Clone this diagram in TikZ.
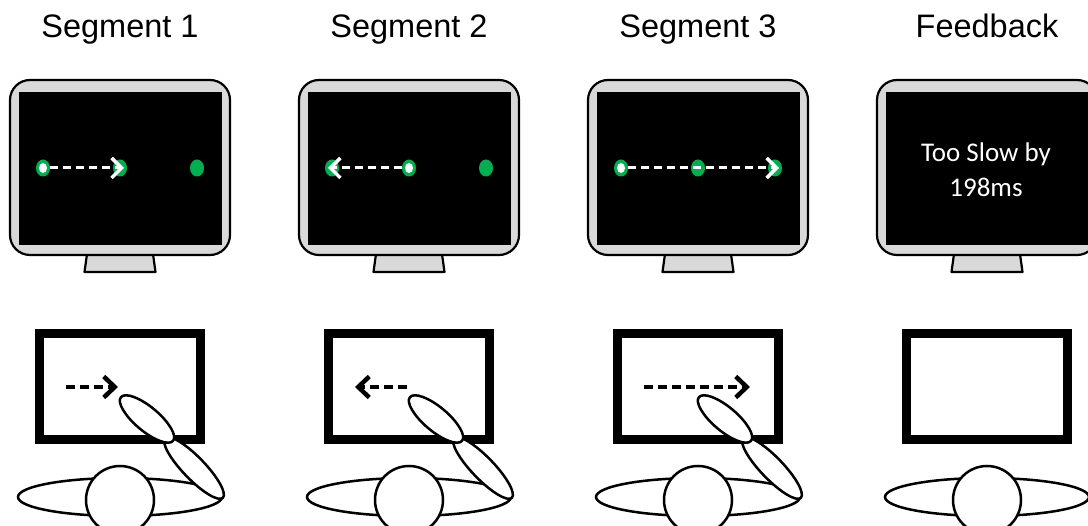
\documentclass[tikz,border=0pt]{standalone}
\usepackage{fontspec}
\setmainfont{Liberation Sans}
\newfontfamily\fbfont{Carlito}
\usetikzlibrary{arrows.meta}
\definecolor{dotgreen}{HTML}{00B050}
\definecolor{framegray}{HTML}{D9D9D9}

\begin{document}
\begin{tikzpicture}[x=1pt,y=-1pt,
  monframe/.style={draw=black,line width=2.2pt,fill=framegray,line join=round},
  gdot/.style={fill=dotgreen},
  screenarrow/.style={white,line width=3pt,dash pattern=on 8pt off 5pt,
    shorten <=7pt,shorten >=-4pt,
    -{Straight Barb[length=10pt,width=20pt,line width=3.5pt]}},
  padarrow/.style={black,line width=4pt,dash pattern=on 9pt off 5pt,
    -{Straight Barb[length=11pt,width=21pt,line width=4.5pt]}},
  pad/.style={draw=black,line width=8.5pt},
  limb/.style={draw=black,line width=2.5pt,fill=white},
  heading/.style={font=\fontsize{32.5}{36}\selectfont,anchor=base},
  fbline/.style={font=\fbfont\fontsize{27}{30}\selectfont,text=white,anchor=base}]
\useasboundingbox (0,0) rectangle (1088,526);
\def\dy{168}  % row of the targets on the screens
\def\py{387}  % row of the arrows on the pads

% headings, monitors, pads and the seated person
\foreach \cx/\lbl [count=\i] in {120/Segment 1,409/Segment 2,698/Segment 3,987/Feedback}{
  \node[heading] (title\i) at (\cx,38) {\lbl};
  \draw[monframe] (\cx-33,254) -- (\cx+33,254) -- (\cx+35.5,272) -- (\cx-35.5,272) -- cycle;
  \draw[monframe,rounded corners=20pt] (\cx-110,80) rectangle (\cx+110,255);
  \fill[black] (\cx-101,92) rectangle (\cx+102,245);
  \coordinate (L\i) at (\cx-77,\dy);
  \coordinate (M\i) at (\cx,\dy);
  \coordinate (R\i) at (\cx+77,\dy);
  \draw[pad] (\cx-80.5,333.5) rectangle (\cx+80.5,439.5);
  \coordinate (PL\i) at (\cx-54,\py);
  \coordinate (P\i) at (\cx-2,\py);
  \coordinate (PR\i) at (\cx+52,\py);
  \draw[limb] (\cx,497) ellipse [x radius=102,y radius=19];
  \draw[limb] (\cx,500) circle [radius=34];
}

% arm reaching to the pad
\foreach \cx in {120,409,698}{
  \draw[limb,rotate around={-46:(\cx+74,468)}] (\cx+74,468) ellipse [x radius=41.5,y radius=11];
  \draw[limb,rotate around={-40:(\cx+27,419)}] (\cx+27,419) ellipse [x radius=34,y radius=12];
}

% targets, start points get a white centre
\foreach \p in {M1,R1,L2,R2,M3,R3}
  \fill[gdot] (\p) ellipse [x radius=7,y radius=8.5];
\foreach \p in {L1,M2,L3}{
  \fill[gdot] (\p) ellipse [x radius=7,y radius=8.5];
  \fill[white] (\p) ellipse [x radius=4,y radius=5];
}

\draw[screenarrow] (L1) -- (M1);
\draw[screenarrow] (M2) -- (L2);
\draw[screenarrow] (L3) -- (R3);

\draw[padarrow] (PL1) -- (P1);
\draw[padarrow] (P2) -- (PL2);
\draw[padarrow] (PL3) -- (PR3);

\node[fbline] (fbtop) at (986,162) {Too Slow by};
\node[fbline] (fbbot) at (986,197) {198ms};
\end{tikzpicture}
\end{document}
